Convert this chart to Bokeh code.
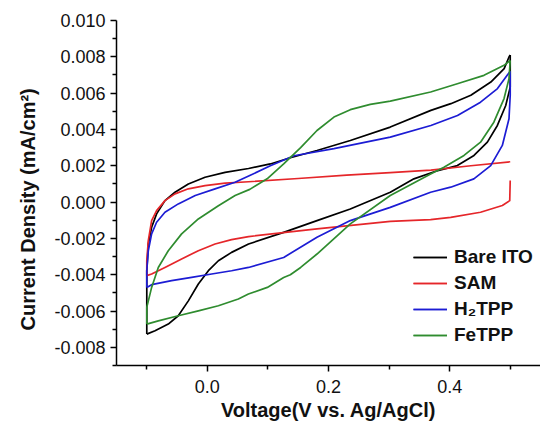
from bokeh.plotting import figure
from bokeh.models import Range1d, Legend, LegendItem, FixedTicker, NumeralTickFormatter, Title
from bokeh.embed import file_html
from bokeh.resources import INLINE

# ---- data (V vs Ag/AgCl, mA/cm^2); forward (anodic) and reverse scans ----
bare_fwd_v = [-0.100, -0.100, -0.0975, -0.092, -0.0838, -0.070, -0.0534, -0.0314, -0.0038, 0.0293, 0.068, 0.104,
              0.137, 0.181, 0.236, 0.302, 0.369, 0.402, 0.435, 0.468, 0.490, 0.498, 0.500]
bare_fwd_j = [-0.00727, -0.00378, -0.00231, -0.00139, -0.00065, 0.00008, 0.00054, 0.0010, 0.00137, 0.00164,
              0.00185, 0.0021, 0.00244, 0.00284, 0.00339, 0.00413, 0.00505, 0.00542, 0.00588, 0.00661, 0.00735,
              0.00799, 0.0081]
bare_rev_v = [0.500, 0.500, 0.4926, 0.4788, 0.4623, 0.4402, 0.4127, 0.377, 0.341, 0.302, 0.236, 0.181, 0.126,
              0.068, 0.040, 0.0182, 0.0017, -0.0149, -0.0314, -0.048, -0.0645, -0.0864, -0.100]
bare_rev_j = [0.0081, 0.00633, 0.00532, 0.00422, 0.0033, 0.00257, 0.00201, 0.0017, 0.00128, 0.00054, -0.00038,
              -0.00102, -0.00167, -0.00231, -0.00277, -0.00323, -0.00378, -0.00451, -0.00544, -0.00626, -0.00672,
              -0.00709, -0.00727]

sam_fwd_v = [-0.100, -0.100, -0.0975, -0.092, -0.0838, -0.070, -0.0534, -0.0314, -0.0038, 0.0293, 0.068, 0.150,
             0.230, 0.302, 0.369, 0.435, 0.500]
sam_fwd_j = [-0.00405, -0.00323, -0.00212, -0.00102, -0.00047, 0.00008, 0.00045, 0.00073, 0.00091, 0.00104,
             0.00112, 0.0013, 0.00148, 0.00162, 0.00176, 0.0020, 0.00222]
sam_rev_v = [0.500, 0.4992, 0.487, 0.451, 0.4017, 0.3686, 0.302, 0.181, 0.068, 0.040, 0.0127, -0.0149, -0.0425,
             -0.070, -0.092, -0.100]
sam_rev_j = [0.00119, 0.00008, -0.00019, -0.00056, -0.00084, -0.00097, -0.00106, -0.00148, -0.0019, -0.00207,
             -0.00231, -0.00268, -0.00313, -0.0036, -0.00396, -0.00405]

h2tpp_fwd_v = [-0.100, -0.100, -0.0975, -0.092, -0.0838, -0.070, -0.048, -0.020, 0.0127, 0.0458, 0.070, 0.104,
               0.143, 0.209, 0.302, 0.369, 0.413, 0.451, 0.479, 0.495, 0.500]
h2tpp_fwd_j = [-0.0047, -0.00378, -0.00268, -0.00175, -0.00111, -0.00056, -0.0001, 0.00036, 0.00073, 0.00109,
               0.00146, 0.0020, 0.00255, 0.00294, 0.00358, 0.00422, 0.00477, 0.0055, 0.00625, 0.00698, 0.0072]
h2tpp_rev_v = [0.500, 0.500, 0.498, 0.487, 0.4678, 0.440, 0.4017, 0.3686, 0.302, 0.236, 0.181, 0.126, 0.068,
               0.040, 0.0071, -0.026, -0.059, -0.092, -0.100]
h2tpp_rev_j = [0.0072, 0.00588, 0.00459, 0.00312, 0.00201, 0.00128, 0.00082, 0.00054, -0.00029, -0.00102,
               -0.00194, -0.00305, -0.0036, -0.00378, -0.00396, -0.00415, -0.00433, -0.00455, -0.0047]

fetpp_fwd_v = [-0.100, -0.100, -0.092, -0.081, -0.0645, -0.0425, -0.0149, 0.0182, 0.0458, 0.070, 0.0987, 0.126,
               0.154, 0.181, 0.209, 0.236, 0.269, 0.302, 0.3686, 0.4127, 0.4567, 0.4898, 0.500]
fetpp_fwd_j = [-0.00672, -0.0058, -0.0047, -0.0036, -0.00268, -0.00175, -0.00093, -0.0002, 0.00036, 0.0007,
               0.00128, 0.0021, 0.0030, 0.00394, 0.00468, 0.00509, 0.00538, 0.00556, 0.00606, 0.00652, 0.00698,
               0.00753, 0.0078]
fetpp_rev_v = [0.500, 0.498, 0.4898, 0.473, 0.451, 0.4237, 0.3906, 0.3686, 0.302, 0.236, 0.181, 0.154, 0.137,
               0.126, 0.099, 0.0678, 0.0512, 0.0182, -0.0149, -0.048, -0.081, -0.100]
fetpp_rev_j = [0.0078, 0.0068, 0.0057, 0.0044, 0.0033, 0.00257, 0.00192, 0.00155, 0.00036, -0.0012, -0.00286,
               -0.0036, -0.0040, -0.00415, -0.0047, -0.00506, -0.00534, -0.00571, -0.00599, -0.00626, -0.00654,
               -0.00672]

series_names = ["Bare ITO", "SAM", "H\u2082TPP", "FeTPP"]
series_colors = ["#000000", "#e5262a", "#1c1cd4", "#2f8c2f"]

y_ticks = [-0.008, -0.006, -0.004, -0.002, 0.000, 0.002, 0.004, 0.006, 0.008, 0.010]
y_minor = [-0.009, -0.007, -0.005, -0.003, -0.001, 0.001, 0.003, 0.005, 0.007, 0.009]
x_ticks = [0.0, 0.2, 0.4]
x_minor = [-0.1, 0.1, 0.3, 0.5]

x_title = "Voltage(V vs. Ag/AgCl)"
y_title = "Current Density (mA/cm\u00b2)"

FONT = "Liberation Sans"

p = figure(width=540, height=427, x_range=Range1d(-0.15, 0.55), y_range=Range1d(-0.009, 0.010),
           output_backend="svg", toolbar_location=None,
           min_border_left=116, min_border_right=0, min_border_top=20, min_border_bottom=62)
p.outline_line_color = None
p.grid.visible = False
p.background_fill_color = "white"
p.border_fill_color = "white"

scans = [
    (bare_fwd_v, bare_fwd_j, bare_rev_v, bare_rev_j),
    (sam_fwd_v, sam_fwd_j, sam_rev_v, sam_rev_j),
    (h2tpp_fwd_v, h2tpp_fwd_j, h2tpp_rev_v, h2tpp_rev_j),
    (fetpp_fwd_v, fetpp_fwd_j, fetpp_rev_v, fetpp_rev_j),
]
items = []
for (fv, fj, rv, rj), name, col in zip(scans, series_names, series_colors):
    r1 = p.line(fv, fj, line_color=col, line_width=1.7, line_join="round")
    r2 = p.line(rv, rj, line_color=col, line_width=1.7, line_join="round")
    items.append(LegendItem(label=name, renderers=[r1, r2]))

legend = Legend(items=items, location=(297, 19), border_line_color=None, background_fill_alpha=0,
                label_text_font=FONT, label_text_font_style="bold", label_text_font_size="19px",
                label_text_color="#111111",
                glyph_width=34, glyph_height=22, label_height=22, spacing=4, padding=0, margin=0,
                label_standoff=7)
p.add_layout(legend, "center")

for ax in (p.xaxis[0], p.yaxis[0]):
    ax.axis_line_color = "black"
    ax.axis_line_width = 1.5
    ax.major_tick_line_color = "black"
    ax.minor_tick_line_color = "black"
    ax.major_tick_line_width = 1.5
    ax.minor_tick_line_width = 1.5
    ax.major_tick_out = 6
    ax.major_tick_in = 0
    ax.minor_tick_out = 4
    ax.minor_tick_in = 0
    ax.major_label_text_font = FONT
    ax.major_label_text_font_size = "18px"
    ax.major_label_text_color = "#111111"
    ax.major_label_standoff = 5
    ax.axis_label_text_font = FONT
    ax.axis_label_text_font_style = "bold"
    ax.axis_label_text_font_size = "20px"
    ax.axis_label_text_color = "#111111"

p.xaxis[0].ticker = FixedTicker(ticks=x_ticks, minor_ticks=x_minor)
p.xaxis[0].formatter = NumeralTickFormatter(format="0.0")
p.xaxis[0].axis_label = x_title
p.xaxis[0].major_label_standoff = 8
p.xaxis[0].axis_label_standoff = 3

p.yaxis[0].ticker = FixedTicker(ticks=y_ticks, minor_ticks=y_minor)
p.yaxis[0].formatter = NumeralTickFormatter(format="0.000")

ytitle = Title(text=y_title, align="left", offset=35, standoff=26,
               text_font=FONT, text_font_style="bold", text_font_size="20px", text_color="#111111")
p.add_layout(ytitle, "left")

open("out.html", "w").write(file_html(p, INLINE))
